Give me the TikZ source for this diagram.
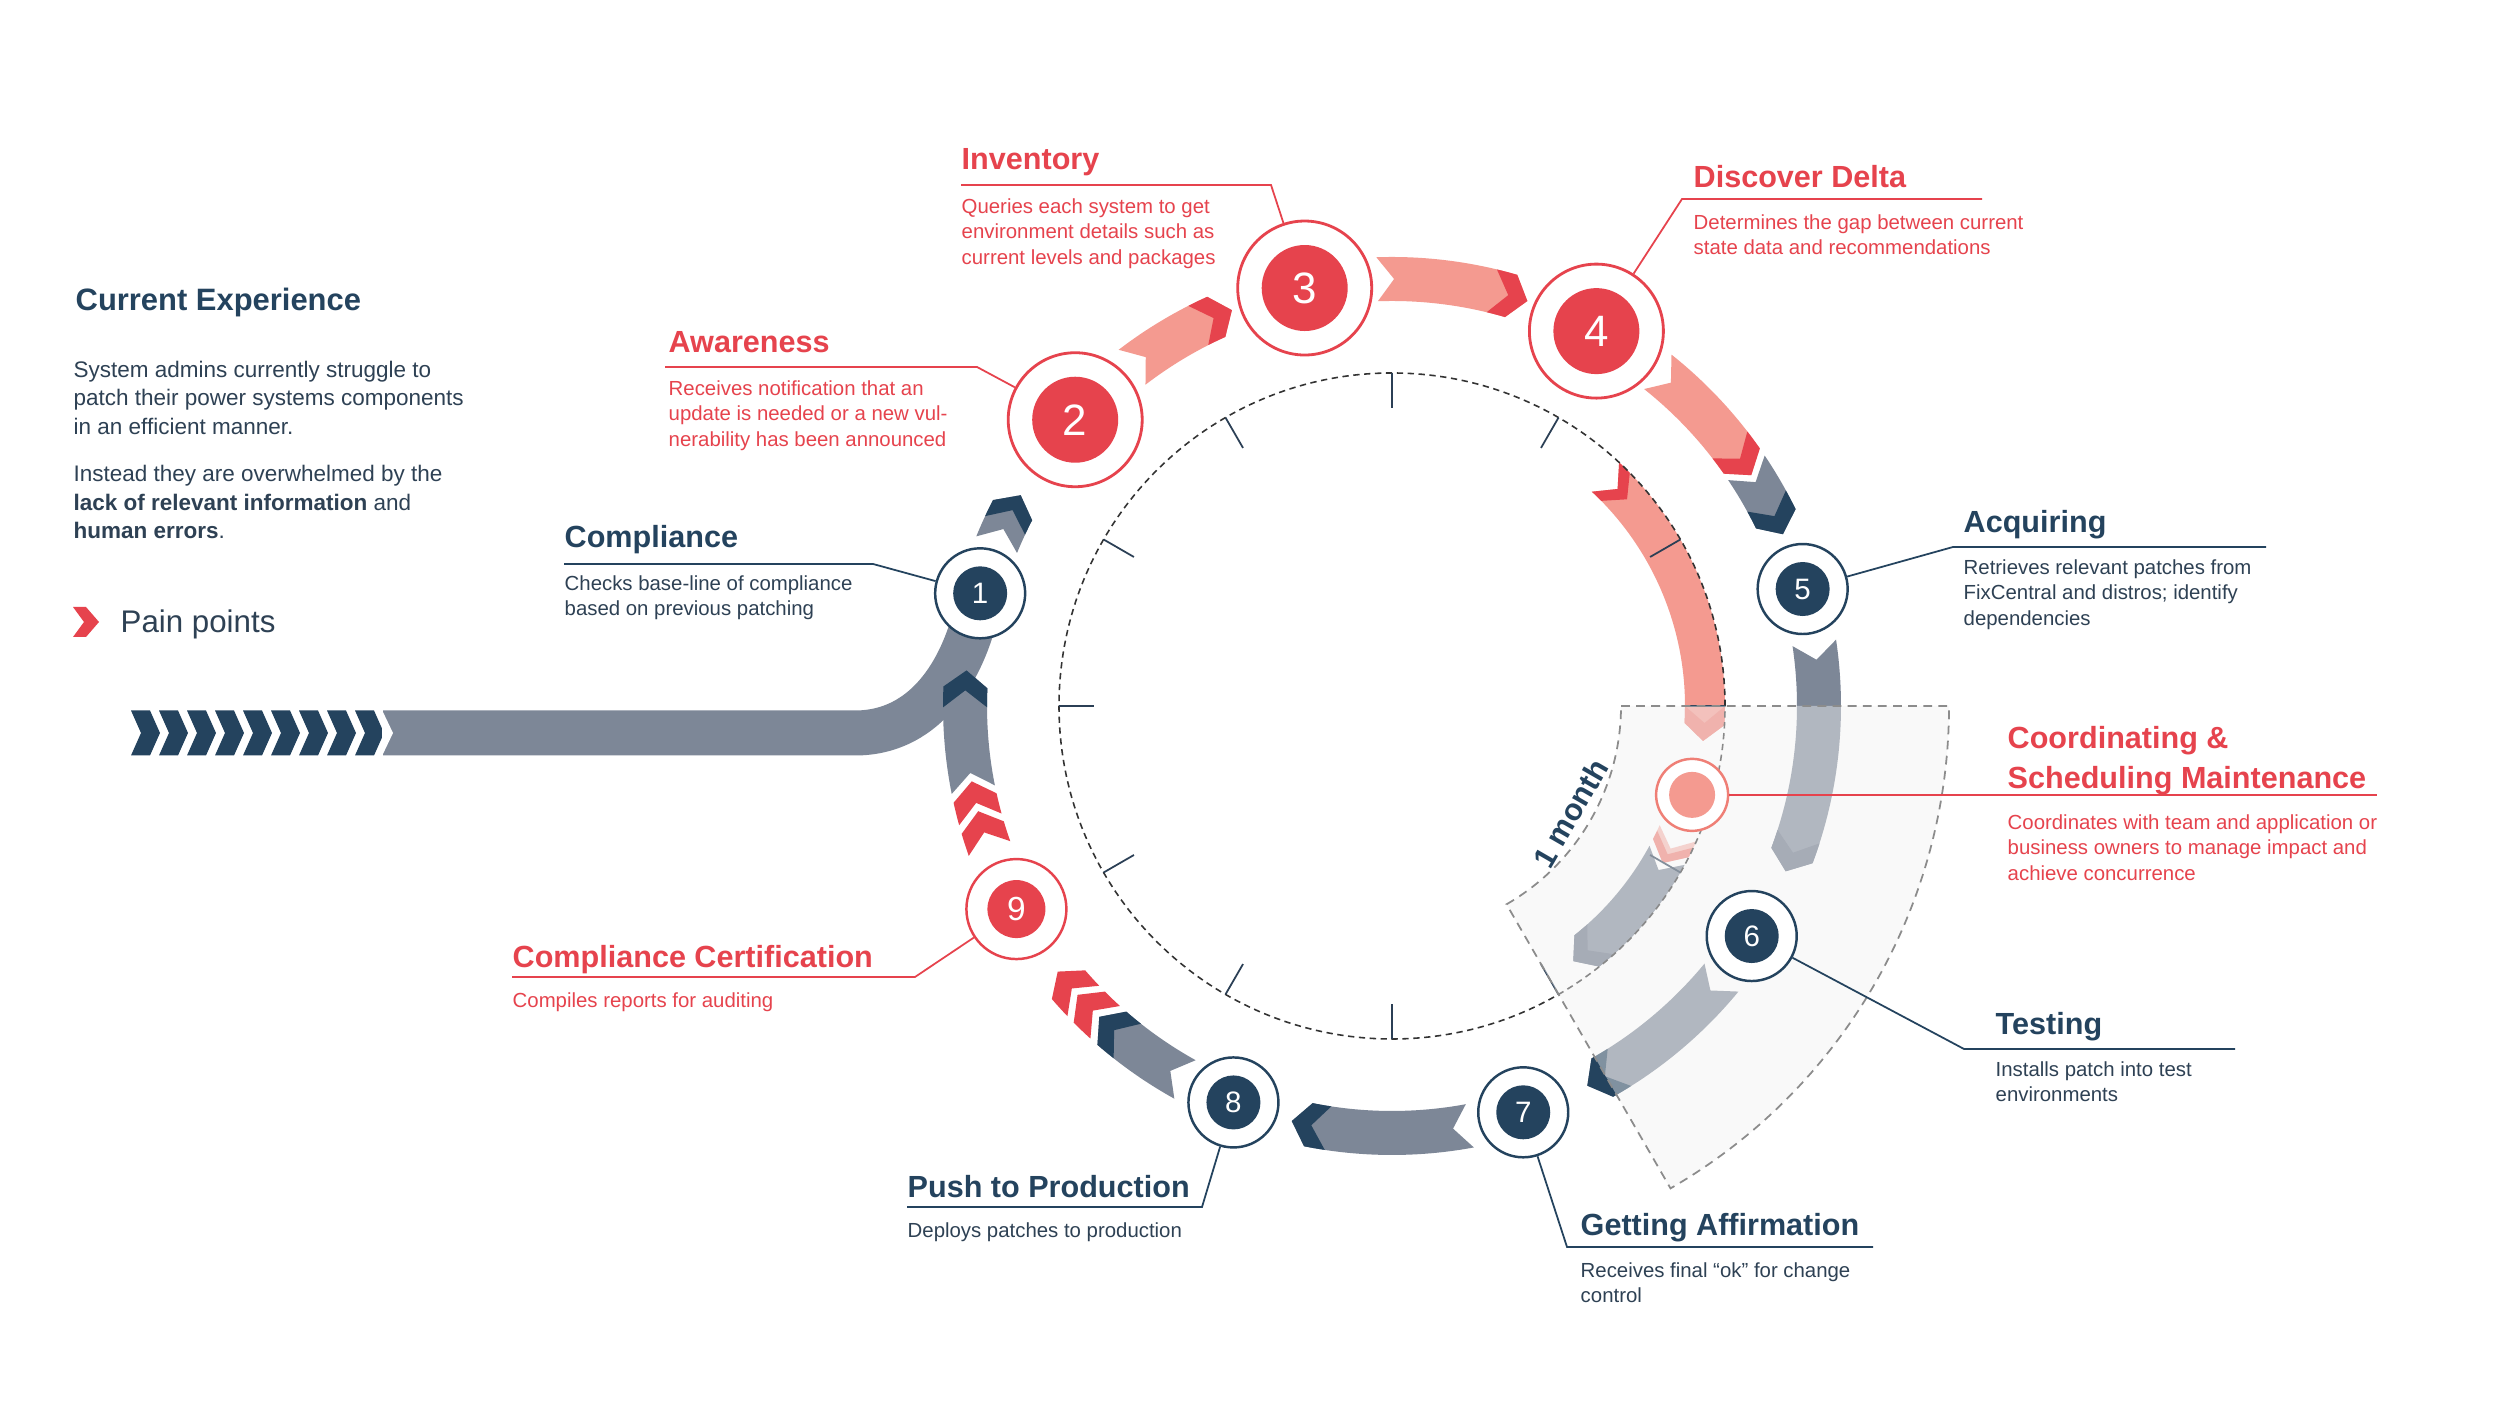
\documentclass[tikz,border=0pt]{standalone}
\usepackage{fontspec}
\setmainfont{Liberation Sans}
\usetikzlibrary{calc}

\definecolor{navyc}{HTML}{24435E}
\definecolor{redc}{HTML}{E6434D}
\definecolor{salmon}{HTML}{F49A90}
\definecolor{salmondk}{HTML}{EF7F76}
\definecolor{slate}{HTML}{7D8797}
\definecolor{slatedk}{HTML}{687386}
\definecolor{ink}{HTML}{2E4154}
\definecolor{tickc}{HTML}{2B3F55}

\newcommand{\hw}{0.22}
\newcommand{\ribbon}[6]{%
  \pgfmathsetmacro{\rbo}{#3+\hw}%
  \pgfmathsetmacro{\rbi}{#3-\hw}%
  \pgfmathsetmacro{\rbd}{deg(0.17/#3)}%
  \pgfmathsetmacro{\rbn}{#1-\rbd}%
  \pgfmathsetmacro{\rbt}{#2-\rbd}%
  \pgfmathsetmacro{\rbb}{#2+deg(#6/#3)}%
  \pgfmathsetmacro{\rbv}{\rbb-\rbd}%
  \fill[#4] ($(C)+(#1:\rbo)$) arc[start angle=#1, end angle=#2, radius=\rbo]
    -- ($(C)+(\rbt:#3)$) -- ($(C)+(#2:\rbi)$)
    arc[start angle=#2, end angle=#1, radius=\rbi] -- ($(C)+(\rbn:#3)$) -- cycle;
  \fill[#5] ($(C)+(\rbb:\rbo)$) arc[start angle=\rbb, end angle=#2, radius=\rbo]
    -- ($(C)+(\rbt:#3)$) -- ($(C)+(#2:\rbi)$)
    arc[start angle=#2, end angle=\rbb, radius=\rbi] -- ($(C)+(\rbv:#3)$) -- cycle;
}
\newcommand{\chevpiece}[4]{%
  \pgfmathsetmacro{\rbo}{#2+\hw}%
  \pgfmathsetmacro{\rbi}{#2-\hw}%
  \pgfmathsetmacro{\rbd}{deg(0.17/#2)}%
  \pgfmathsetmacro{\rbe}{#1-deg(#4/#2)}%
  \pgfmathsetmacro{\rbn}{#1-\rbd}%
  \pgfmathsetmacro{\rbt}{\rbe-\rbd}%
  \fill[#3] ($(C)+(#1:\rbo)$) arc[start angle=#1, end angle=\rbe, radius=\rbo]
    -- ($(C)+(\rbt:#2)$) -- ($(C)+(\rbe:\rbi)$)
    arc[start angle=\rbe, end angle=#1, radius=\rbi] -- ($(C)+(\rbn:#2)$) -- cycle;
}

\begin{document}
\begin{tikzpicture}[
  ttl/.style={anchor=base west, inner sep=0pt, font=\bfseries\fontsize{8.7}{11.4}\selectfont},
  dsc/.style={anchor=north west, inner sep=0pt, align=left, font=\fontsize{5.8}{7.26}\selectfont},
  body/.style={anchor=north west, inner sep=0pt, align=left, text=ink, font=\fontsize{6.4}{7.97}\selectfont},
  leadr/.style={draw=redc, line width=0.5pt},
  leadn/.style={draw=navyc, line width=0.5pt},
  stepbig/.style={circle, draw=redc, line width=0.8pt, fill=white, minimum size=1.34cm, inner sep=0pt,
    text=white, font=\fontsize{12.5}{12.5}\selectfont,
    path picture={\fill[redc] (path picture bounding box.center) circle (0.43);}},
  stepnine/.style={circle, draw=redc, line width=0.7pt, fill=white, minimum size=1.0cm, inner sep=0pt,
    text=white, font=\fontsize{9.5}{9.5}\selectfont,
    path picture={\fill[redc] (path picture bounding box.center) circle (0.29);}},
  stepnavy/.style={circle, draw=navyc, line width=0.7pt, fill=white, minimum size=0.9cm, inner sep=0pt,
    text=white, font=\fontsize{8.4}{8.4}\selectfont,
    path picture={\fill[navyc] (path picture bounding box.center) circle (0.27);}},
  coordc/.style={circle, draw=salmondk, line width=0.7pt, fill=white, minimum size=0.72cm, inner sep=0pt,
    path picture={\fill[salmon] (path picture bounding box.center) circle (0.23);}},
  dashcirc/.style={draw=black!80, line width=0.45pt, dash pattern=on 1.8pt off 1.3pt},
  tickline/.style={draw=tickc, line width=0.5pt},
  sector/.style={fill=gray!10, fill opacity=0.45, draw=black!45, line width=0.5pt, dash pattern=on 2.5pt off 1.8pt}
]
\fill[white] (0,0) rectangle (25,14.06);
\useasboundingbox (0,0) rectangle (25,14.06);

\coordinate (C) at (13.92,7.00);
\coordinate (p1) at ($(C)+(164.7:4.27)$);
\coordinate (p2) at ($(C)+(137.9:4.27)$);
\coordinate (p3) at ($(C)+(101.8:4.27)$);
\coordinate (p4) at ($(C)+(61.4:4.27)$);
\coordinate (p5) at ($(C)+(15.9:4.27)$);
\coordinate (p6) at ($(C)+(-32.6:4.27)$);
\coordinate (p7) at ($(C)+(-72.1:4.27)$);
\coordinate (p8) at ($(C)+(-111.8:4.27)$);
\coordinate (p9) at ($(C)+(-151.6:4.27)$);
\coordinate (pc) at ($(C)+(-16.5:3.13)$);

% pain points trail
\foreach \i in {0,...,8}
  \fill[navyc] ({1.31+0.28*\i},6.955) -- ++(0.19,0) -- ++(0.1,-0.225) -- ++(-0.1,-0.225) -- ++(-0.19,0) -- ++(0.1,0.225) -- cycle;
\draw[slate, line width=0.45cm] (3.83,6.73) -- (8.55,6.73) to[out=0,in=-100] (p1);
\fill[white] (3.82,6.96) -- (3.93,6.73) -- (3.82,6.50) -- cycle;

% main cycle
\ribbon{157.8}{152.7}{4.27}{slate}{navyc}{0.17}
\ribbon{127.5}{114.3}{4.27}{salmon}{redc}{0.2}
\ribbon{92}{73.8}{4.27}{salmon}{redc}{0.2}
\ribbon{51.5}{35}{4.27}{salmon}{redc}{0.2}
\ribbon{33.9}{26}{4.27}{slate}{navyc}{0.2}
\ribbon{8.5}{-20.5}{4.27}{slate}{slatedk}{0.2}
\ribbon{-39.5}{-60.5}{4.27}{slate}{navyc}{0.2}
\ribbon{-79.5}{-101.3}{4.27}{slate}{navyc}{0.2}
\ribbon{-119}{-131}{4.27}{slate}{navyc}{0.2}
\chevpiece{-132.2}{4.27}{redc}{0.22}
\chevpiece{-136.3}{4.27}{redc}{0.22}
\chevpiece{199.5}{4.27}{redc}{0.22}
\chevpiece{195.4}{4.27}{redc}{0.22}
\ribbon{191.3}{177.5}{4.27}{slate}{navyc}{0.2}

% short cut
\renewcommand{\hw}{0.2}
\ribbon{47}{-3.3}{3.13}{salmon}{salmondk}{0.18}
\chevpiece{47}{3.13}{redc}{0.14}
\ribbon{-24}{-27}{3.13}{salmon!70!white}{salmondk}{0.1}
\ribbon{-28.5}{-51.5}{3.13}{slate}{slatedk}{0.18}

\draw[dashcirc] (C) circle (3.33);
\foreach \a in {0,30,...,330}
  \draw[tickline] ($(C)+(\a:3.33)$) -- ($(C)+(\a:2.98)$);

\path[sector] ($(C)+(0:2.29)$) -- ($(C)+(0:5.57)$) arc[start angle=0, end angle=-60, radius=5.57]
  -- ($(C)+(-60:2.29)$) arc[start angle=-60, end angle=0, radius=2.29] -- cycle;
\node[rotate=60, inner sep=0pt, text=navyc, font=\bfseries\fontsize{8.7}{8.7}\selectfont] (mon) at ($(C)+(-31:2.08)$) {1 month};

\node[stepnavy] (s1) at (p1) {1};
\node[stepbig] (s2) at (p2) {2};
\node[stepbig] (s3) at (p3) {3};
\node[stepbig] (s4) at (p4) {4};
\node[stepnavy] (s5) at (p5) {5};
\node[stepnavy] (s6) at (p6) {6};
\node[stepnavy] (s7) at (p7) {7};
\node[stepnavy] (s8) at (p8) {8};
\node[stepnine] (s9) at (p9) {9};
\node[coordc] (sc) at (pc) {};

% left column
\node[ttl, navyc, font=\bfseries\fontsize{8.8}{11}\selectfont] (ce) at (0.75,10.95) {Current Experience};
\node[body] (ce1) at (0.73,10.45) {System admins currently struggle to\\patch their power systems components\\in an efficient manner.};
\node[body] (ce2) at (0.73,9.41) {Instead they are overwhelmed by the\\\textbf{lack of relevant information} and\\\textbf{human errors}.};
\fill[redc] (0.73,7.99) -- (0.86,7.99) -- (0.99,7.84) -- (0.86,7.69) -- (0.73,7.69) -- (0.84,7.84) -- cycle;
\node[anchor=base west, inner sep=0pt, text=ink, font=\fontsize{8.9}{10}\selectfont] (pain) at (1.20,7.73) {Pain points};

% step labels
\node[ttl, navyc] (t1) at (5.64,8.58) {Compliance};
\node[dsc, ink] (d1) at (5.64,8.31) {Checks base-line of compliance\\based on previous patching};
\coordinate (u1a) at (5.64,8.42);
\coordinate (u1b) at (8.73,8.42);
\draw[leadn] (u1a) -- (u1b) -- (s1);

\node[ttl, redc] (t2) at (6.68,10.53) {Awareness};
\node[dsc, redc] (d2) at (6.68,10.26) {Receives notification that an\\update is needed or a new vul-\\nerability has been announced};
\coordinate (u2a) at (6.65,10.39);
\coordinate (u2b) at (9.77,10.39);
\draw[leadr] (u2a) -- (u2b) -- (s2);

\node[ttl, redc] (t3) at (9.61,12.36) {Inventory};
\node[dsc, redc] (d3) at (9.61,12.08) {Queries each system to get\\environment details such as\\current levels and packages};
\coordinate (u3a) at (9.61,12.21);
\coordinate (u3b) at (12.71,12.21);
\draw[leadr] (u3a) -- (u3b) -- (s3);

\node[ttl, redc] (t4) at (16.93,12.18) {Discover Delta};
\node[dsc, redc] (d4) at (16.93,11.92) {Determines the gap between current\\state data and recommendations};
\coordinate (u4a) at (16.82,12.07);
\coordinate (u4b) at (19.82,12.07);
\draw[leadr] (u4b) -- (u4a) -- (s4);

\node[ttl, navyc] (t5) at (19.63,8.73) {Acquiring};
\node[dsc, ink] (d5) at (19.63,8.47) {Retrieves relevant patches from\\FixCentral and distros; identify\\dependencies};
\coordinate (u5a) at (19.53,8.59);
\coordinate (u5b) at (22.66,8.59);
\draw[leadn] (u5b) -- (u5a) -- (s5);

\node[ttl, redc, anchor=north west, align=left] (tc) at (20.07,6.80) {Coordinating \&\\Scheduling Maintenance};
\node[dsc, redc] (dc) at (20.07,5.92) {Coordinates with team and application or\\business owners to manage impact and\\achieve concurrence};
\coordinate (ucb) at (23.77,6.10);
\draw[leadr] (sc.east) -- (sc.east -| ucb);

\node[ttl, navyc] (t6) at (19.95,3.71) {Testing};
\node[dsc, ink] (d6) at (19.95,3.45) {Installs patch into test\\environments};
\coordinate (u6a) at (19.64,3.57);
\coordinate (u6b) at (22.35,3.57);
\draw[leadn] (u6b) -- (u6a) -- (s6);

\node[ttl, navyc] (t7) at (15.80,1.70) {Getting Affirmation};
\node[dsc, ink] (d7) at (15.80,1.44) {Receives final “ok” for change\\control};
\coordinate (u7a) at (15.67,1.59);
\coordinate (u7b) at (18.73,1.59);
\draw[leadn] (u7b) -- (u7a) -- (s7);

\node[ttl, navyc] (t8) at (9.07,2.08) {Push to Production};
\node[dsc, ink] (d8) at (9.07,1.84) {Deploys patches to production};
\coordinate (u8a) at (9.07,1.99);
\coordinate (u8b) at (12.02,1.99);
\draw[leadn] (u8a) -- (u8b) -- (s8);

\node[ttl, redc] (t9) at (5.12,4.38) {Compliance Certification};
\node[dsc, redc] (d9) at (5.12,4.14) {Compiles reports for auditing};
\coordinate (u9a) at (5.12,4.29);
\coordinate (u9b) at (9.15,4.29);
\draw[leadr] (u9a) -- (u9b) -- (s9);
\end{tikzpicture}
\end{document}
